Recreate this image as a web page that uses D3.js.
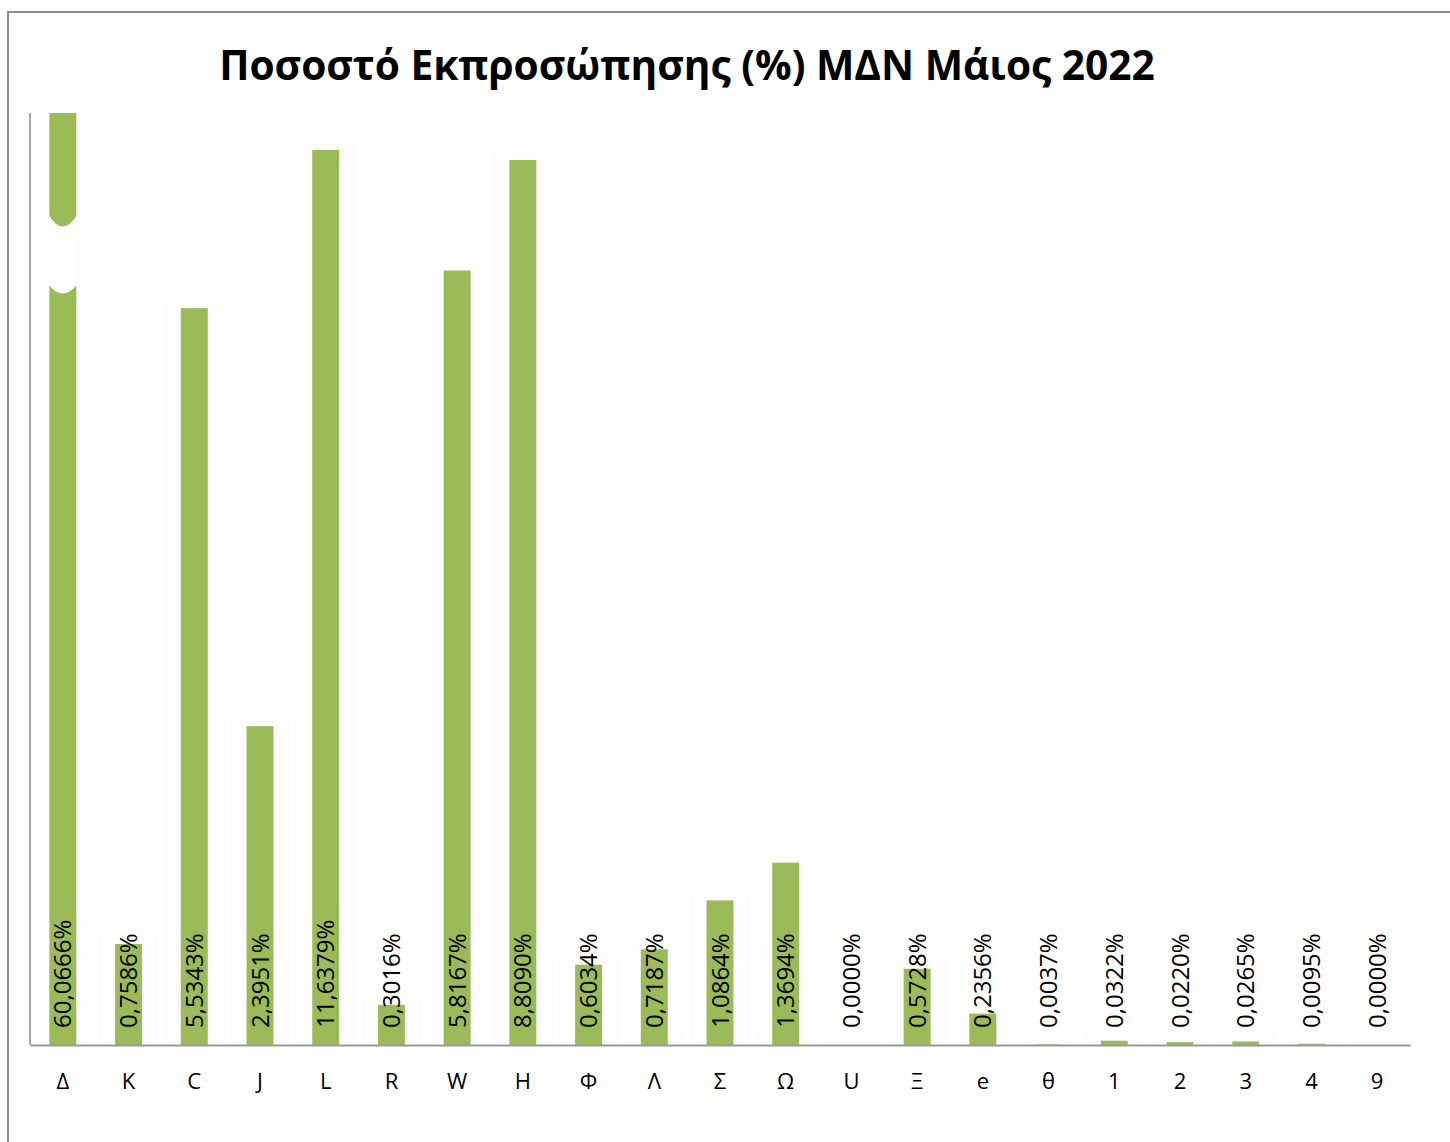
<!DOCTYPE html>
<html>
<head>
<meta charset="utf-8">
<script src="https://cdn.jsdelivr.net/npm/d3@7"></script>
<style>
  body { margin: 0; background: #fff; }
</style>
</head>
<body>
<div id="chart"></div>
<script>
// datos del gráfico
var categories = ["Δ","K","C","J","L","R","W","H","Φ","Λ","Σ","Ω","U","Ξ","e","θ","1","2","3","4","9"];
var percentages = [60.0666, 0.7586, 5.5343, 2.3951, 11.6379, 0.3016, 5.8167, 8.8090, 0.6034, 0.7187,
                   1.0864, 1.3694, 0.0000, 0.5728, 0.2356, 0.0037, 0.0322, 0.0220, 0.0265, 0.0095, 0.0000];
var titleText = "Ποσοστό Εκπροσώπησης (%) ΜΔΝ Μάιος 2022";

// the value axis is squashed above ~6%: knots of the piecewise scale and their share of the plot height
var axisKnots  = [0, 6, 8.809, 11.6379, 60.0666];
var knotLevels = [0, 6 / 7, 0.9496, 0.9603, 1];

var width = 1450, height = 1142;
var plot = { left: 30, right: 1410, top: 113, bottom: 1045 };
var barColor = "#9BBB59";

var svg = d3.select("#chart")
            .append("svg")
            .attr("width", width)
            .attr("height", height);

// marco del gráfico
svg.append("rect")
   .attr("x", 8).attr("y", 12)
   .attr("width", width + 20).attr("height", height + 20)
   .attr("fill", "#fff")
   .attr("stroke", "#8c8c8c")
   .attr("stroke-width", 2);

// title, scaled to the width it takes in the reference
var title = svg.append("text")
               .text(titleText)
               .attr("x", 687)
               .attr("y", 80)
               .attr("text-anchor", "middle")
               .attr("font-family", "'Open Sans', 'Noto Sans', sans-serif")
               .attr("font-weight", "bold")
               .attr("font-size", 42)
               .attr("fill", "#000");
var tw = title.node().getComputedTextLength();
title.attr("font-size", 42 * 936 / tw);

var x = d3.scaleBand()
          .domain(categories)
          .range([plot.left, plot.right])
          .paddingInner(0.59)
          .paddingOuter(0.295);

var plotH = plot.bottom - plot.top;
var y = d3.scaleLinear()
          .domain(axisKnots)
          .range(knotLevels.map(function(f){ return plot.bottom - f * plotH; }));

var rows = categories.map(function(c, i){ return { cat: c, value: percentages[i] }; });

// faint glow behind bars
svg.append("g")
   .selectAll("rect")
   .data(rows)
   .join("rect")
   .attr("x", function(d){ return x(d.cat) - 17; })
   .attr("y", function(d){ return y(d.value) - 12; })
   .attr("width", x.bandwidth() + 34)
   .attr("height", function(d){ return plot.bottom - y(d.value) + 12; })
   .attr("rx", 8)
   .attr("fill", "#fdfdfd");

// barras
svg.append("g")
   .selectAll("rect")
   .data(rows)
   .join("rect")
   .attr("x", function(d){ return x(d.cat); })
   .attr("y", function(d){ return y(d.value); })
   .attr("width", x.bandwidth())
   .attr("height", function(d){ return plot.bottom - y(d.value); })
   .attr("fill", barColor);

// break on the tallest bar
var big = rows[0];
var bx0 = x(big.cat), bx1 = bx0 + x.bandwidth(), bxm = (bx0 + bx1) / 2;
var brTop = plot.top + 0.109 * plotH, brBot = plot.top + 0.184 * plotH;
svg.append("path")
   .attr("d", "M" + (bx0 - 1) + "," + brTop +
              " Q" + bxm + "," + (brTop + 24) + " " + (bx1 + 1) + "," + brTop +
              " L" + (bx1 + 1) + "," + brBot +
              " Q" + bxm + "," + (brBot + 18) + " " + (bx0 - 1) + "," + brBot + " Z")
   .attr("fill", "#fff");

// ejes
svg.append("line")
   .attr("x1", plot.left).attr("x2", plot.left)
   .attr("y1", plot.top).attr("y2", plot.bottom)
   .attr("stroke", "#a6a6a6").attr("stroke-width", 2);

var xAxis = svg.append("g")
               .attr("transform", "translate(0," + plot.bottom + ")")
               .call(d3.axisBottom(x).tickSize(0).tickPadding(28));
xAxis.select(".domain")
     .attr("stroke", "#9a9a9a")
     .attr("stroke-width", 2);
xAxis.selectAll("text")
     .attr("font-family", "'Open Sans', 'Noto Sans', sans-serif")
     .attr("font-size", 22)
     .attr("fill", "#000");

// etiquetas de valores
svg.append("g")
   .selectAll("text")
   .data(rows)
   .join("text")
   .text(function(d){ return d.value.toFixed(4).replace(".", ",") + "%"; })
   .attr("transform", function(d){
     return "translate(" + (x(d.cat) + x.bandwidth() / 2) + "," + (plot.bottom - 17) + ") rotate(-90)";
   })
   .attr("dy", "0.36em")
   .attr("font-family", "'Open Sans', 'Noto Sans', sans-serif")
   .attr("font-size", 24)
   .attr("fill", "#000");
</script>
</body>
</html>
